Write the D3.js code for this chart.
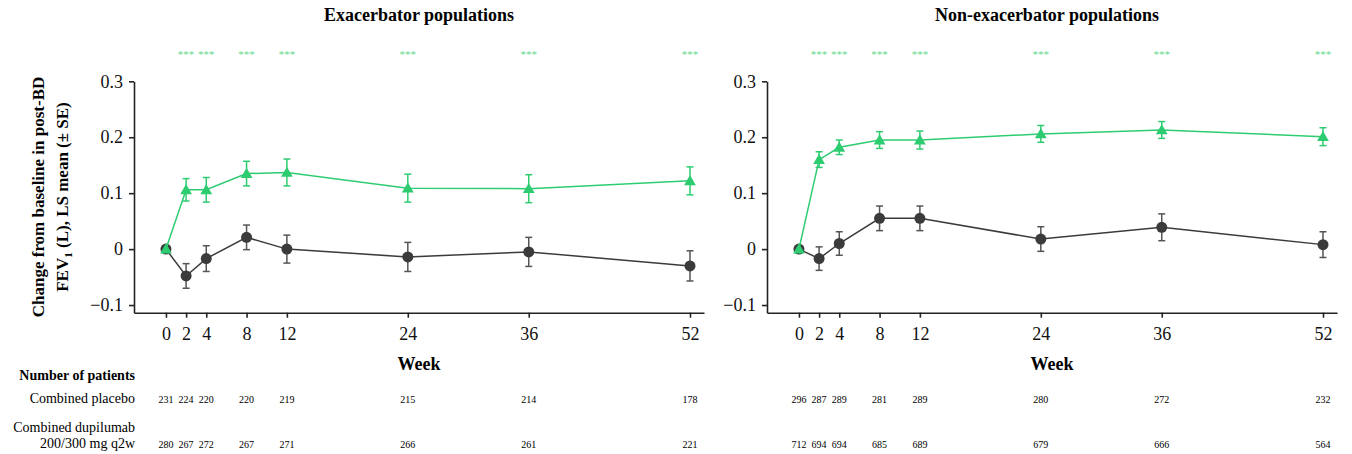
<!DOCTYPE html>
<html>
<head>
<meta charset="utf-8">
<script src="https://cdn.jsdelivr.net/npm/d3@7"></script>
<style>
  body { margin: 0; background: #fff; }
  svg, svg text { font-family: "Liberation Serif", "Times New Roman", serif; }
</style>
</head>
<body>
<div id="chart-area"></div>
<script>
// weeks and values
var weeks = [0, 2, 4, 8, 12, 24, 36, 52];
var starWeeks = [2, 4, 8, 12, 24, 36, 52];
var yTicks = [-0.1, 0, 0.1, 0.2, 0.3];

// Exacerbator populations
var exPlacebo   = [0, -0.048, -0.017, 0.021, 0.000, -0.014, -0.005, -0.030];
var exPlaceboSE = [0, 0.022, 0.023, 0.022, 0.025, 0.026, 0.026, 0.027];
var exDupi      = [0, 0.106, 0.106, 0.135, 0.137, 0.109, 0.108, 0.122];
var exDupiSE    = [0, 0.020, 0.022, 0.022, 0.024, 0.025, 0.025, 0.025];
var exNPlacebo  = [231, 224, 220, 220, 219, 215, 214, 178];
var exNDupi     = [280, 267, 272, 267, 271, 266, 261, 221];

// Non-exacerbator populations
var nonPlacebo   = [0, -0.017, 0.010, 0.055, 0.055, 0.018, 0.039, 0.008];
var nonPlaceboSE = [0, 0.021, 0.021, 0.022, 0.022, 0.022, 0.024, 0.023];
var nonDupi      = [0, 0.160, 0.182, 0.195, 0.195, 0.206, 0.213, 0.201];
var nonDupiSE    = [0, 0.014, 0.013, 0.015, 0.016, 0.015, 0.015, 0.016];
var nonNPlacebo  = [296, 287, 289, 281, 289, 280, 272, 232];
var nonNDupi     = [712, 694, 694, 685, 689, 679, 666, 564];

var green = "#2ecc71", dark = "#3b3b3b";

var svg = d3.select("#chart-area")
    .append("svg")
        .attr("width", 1352)
        .attr("height", 454);

// shared y scale
var y = d3.scaleLinear().domain([-0.1137, 0.3]).range([312.7, 81.3]);

function fmt(d) {
    if (d === 0) return "0";
    return (d < 0 ? "\u2212" : "") + Math.abs(d).toFixed(1);
}

function drawPanel(left, right, titleX, title, plac, placSE, dupi, dupiSE, nPlac, nDupi) {
    var x = d3.scaleLinear().domain([-3.17, 53.39]).range([left, right]);
    var g = svg.append("g");

    // title
    g.append("text")
        .attr("x", titleX).attr("y", 21)
        .attr("text-anchor", "middle")
        .attr("font-size", "18px").attr("font-weight", "bold")
        .text(title);

    // significance stars
    g.selectAll(".star").data(starWeeks).enter().append("text")
        .attr("x", function(d){ return x(d); })
        .attr("y", 58)
        .attr("text-anchor", "middle")
        .attr("font-size", "11px")
        .attr("fill", "#62d98e")
        .text("***");

    // axes
    var yAxis = g.append("g")
        .attr("transform", "translate(" + left + ",0)")
        .call(d3.axisLeft(y).tickValues(yTicks).tickFormat(fmt).tickSize(5).tickPadding(6).tickSizeOuter(0));
    var xAxis = g.append("g")
        .attr("transform", "translate(0," + y.range()[0] + ")")
        .call(d3.axisBottom(x).tickValues(weeks).tickFormat(d3.format("d")).tickSize(5).tickPadding(6).tickSizeOuter(0));
    [yAxis, xAxis].forEach(function(a){
        a.attr("font-family", null);
        a.selectAll("path, line").attr("stroke", "#222").attr("stroke-width", 1.6);
        a.selectAll("text")
            .style("font-family", "'Liberation Serif', serif")
            .attr("font-size", "18px").attr("fill", "#111");
    });
    xAxis.selectAll("text").attr("dy", "0.9em");

    // x label
    g.append("text")
        .attr("x", (left + right) / 2).attr("y", 370)
        .attr("text-anchor", "middle")
        .attr("font-size", "18px").attr("font-weight", "bold")
        .text("Week");

    var line = d3.line()
        .x(function(d){ return x(d.w); })
        .y(function(d){ return y(d.v); });

    function series(vals, ses, color, barColor, isTri) {
        var data = weeks.map(function(w, i){ return { w: w, v: vals[i], se: ses[i] }; });
        g.append("path").datum(data)
            .attr("fill", "none").attr("stroke", color).attr("stroke-width", 1.5)
            .attr("d", line);
        var eb = g.selectAll(null).data(data.filter(function(d){ return d.se > 0; })).enter()
            .append("g").attr("stroke", barColor).attr("stroke-width", 1.5);
        eb.append("line")
            .attr("x1", function(d){ return x(d.w); }).attr("x2", function(d){ return x(d.w); })
            .attr("y1", function(d){ return y(d.v + d.se); }).attr("y2", function(d){ return y(d.v - d.se); });
        [1, -1].forEach(function(s){
            eb.append("line")
                .attr("x1", function(d){ return x(d.w) - 3.5; }).attr("x2", function(d){ return x(d.w) + 3.5; })
                .attr("y1", function(d){ return y(d.v + s * d.se); }).attr("y2", function(d){ return y(d.v + s * d.se); });
        });
        g.selectAll(null).data(data).enter().append("path")
            .attr("transform", function(d){ return "translate(" + x(d.w) + "," + (y(d.v) + (isTri ? 1 : 0)) + ")"; })
            .attr("d", d3.symbol().type(isTri ? d3.symbolTriangle : d3.symbolCircle).size(isTri ? 60 : 95))
            .attr("fill", color);
    }
    series(plac, placSE, dark, "#555", false);
    series(dupi, dupiSE, green, green, true);

    // number of patients
    g.selectAll(null).data(nPlac).enter().append("text")
        .attr("x", function(d, i){ return x(weeks[i]); })
        .attr("y", 402.5)
        .attr("text-anchor", "middle").attr("font-size", "10px")
        .text(function(d){ return d; });
    g.selectAll(null).data(nDupi).enter().append("text")
        .attr("x", function(d, i){ return x(weeks[i]); })
        .attr("y", 447.5)
        .attr("text-anchor", "middle").attr("font-size", "10px")
        .text(function(d){ return d; });
}

drawPanel(134, 704, 419, "Exacerbator populations",
    exPlacebo, exPlaceboSE, exDupi, exDupiSE, exNPlacebo, exNDupi);
drawPanel(767, 1337, 1047, "Non-exacerbator populations",
    nonPlacebo, nonPlaceboSE, nonDupi, nonDupiSE, nonNPlacebo, nonNDupi);

// Y label
var yLabel = svg.append("text")
    .attr("transform", "translate(0,197) rotate(-90)")
    .attr("text-anchor", "middle")
    .attr("font-size", "17px").attr("font-weight", "bold");
yLabel.append("tspan").attr("x", 0).attr("y", 44).text("Change from baseline in post-BD");
var l2 = yLabel.append("tspan").attr("x", 0).attr("y", 68);
l2.append("tspan").text("FEV");
l2.append("tspan").attr("font-size", "11px").attr("dy", 4).text("1");
l2.append("tspan").attr("dy", -4).text(" (L), LS mean (\u00b1 SE)");

// table row labels
var rows = svg.append("g").attr("text-anchor", "end").attr("font-size", "14px");
rows.append("text").attr("x", 135).attr("y", 380).attr("font-weight", "bold").text("Number of patients");
rows.append("text").attr("x", 135).attr("y", 403).text("Combined placebo");
rows.append("text").attr("x", 135).attr("y", 432).text("Combined dupilumab");
rows.append("text").attr("x", 135).attr("y", 448).text("200/300 mg q2w");
</script>
</body>
</html>
